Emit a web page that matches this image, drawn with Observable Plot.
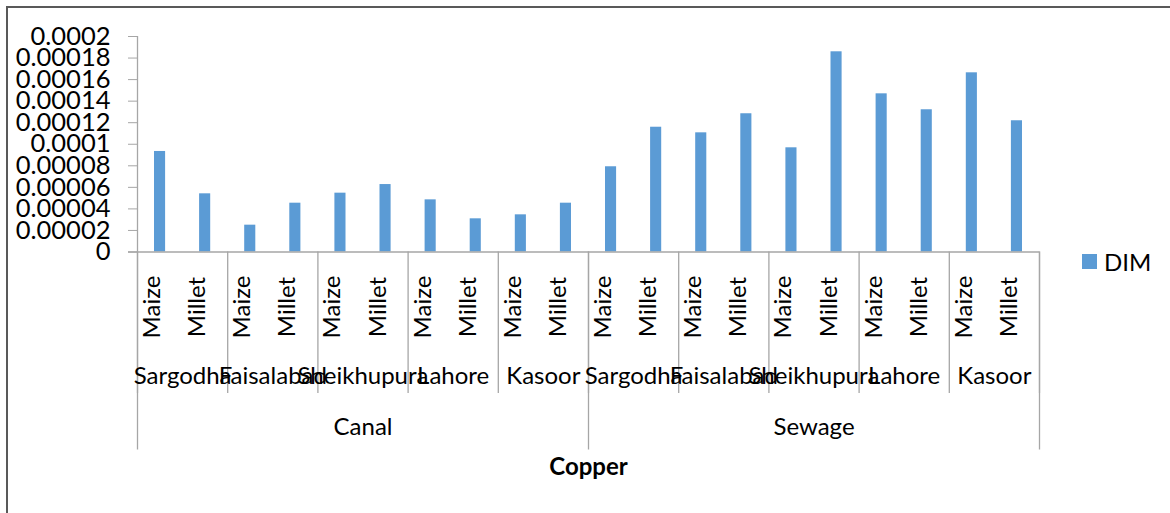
<!DOCTYPE html>
<html><head><meta charset="utf-8">
<script src="https://cdn.jsdelivr.net/npm/d3@7"></script>
<script src="https://cdn.jsdelivr.net/npm/@observablehq/plot@0.6"></script>
<style>
html,body{margin:0;padding:0;background:#fff;}
#wrap{position:relative;width:1170px;height:513px;overflow:hidden;font-family:Lato,sans-serif;}
#frame{position:absolute;left:6px;top:6px;width:1200px;height:600px;border-top:2px solid #595959;border-left:2px solid #595959;box-sizing:border-box;}
#chart{position:absolute;left:0;top:0;}
#legend{position:absolute;left:1082px;top:245px;}
#legend svg{margin-right:7px !important;}
</style></head><body>
<div id="wrap"><div id="frame"></div><div id="chart"></div><div id="legend"></div></div>
<script>
// ---- data ----
const sources = ["Canal", "Sewage"];
const cities = ["Sargodha", "Faisalabad", "Sheikhupura", "Lahore", "Kasoor"];
const crops = ["Maize", "Millet"];
// DIM values, in order city x crop
const canalDIM  = [0.0000933, 0.0000540, 0.0000249, 0.0000453, 0.0000546, 0.0000626, 0.0000484, 0.0000308, 0.0000345, 0.0000453];
const sewageDIM = [0.0000791, 0.0001158, 0.0001106, 0.0001283, 0.0000967, 0.0001858, 0.0001468, 0.0001320, 0.0001663, 0.0001218];
const yTicks = [0, 0.00002, 0.00004, 0.00006, 0.00008, 0.0001, 0.00012, 0.00014, 0.00016, 0.00018, 0.0002];
const yTickLabels = ["0", "0.00002", "0.00004", "0.00006", "0.00008", "0.0001", "0.00012", "0.00014", "0.00016", "0.00018", "0.0002"];
const seriesName = "DIM";
const xTitle = "Copper";

// ---- table ----
const seriesBySource = {Canal: canalDIM, Sewage: sewageDIM};
const rows = [];
sources.forEach(s => {
  cities.forEach((c, ci) => {
    crops.forEach((k, ki) => {
      rows.push({source: s, city: c, crop: k, i: rows.length, value: seriesBySource[s][ci * crops.length + ki]});
    });
  });
});
const cityGroups = d3.groups(rows, d => d.source + "|" + d.city).map(([key, g]) => ({
  city: g[0].city, start: d3.min(g, d => d.i), end: d3.max(g, d => d.i) + 1
}));
const sourceGroups = d3.groups(rows, d => d.source).map(([s, g]) => ({
  source: s, start: d3.min(g, d => d.i), end: d3.max(g, d => d.i) + 1
}));
const cityBounds = Array.from(new Set(cityGroups.flatMap(g => [g.start, g.end])));
const sourceBounds = Array.from(new Set(sourceGroups.flatMap(g => [g.start, g.end])));

const gray = "#a6a6a6";
const blue = "#5B9BD5";
const fs = 24;
const tickFs = 25.5;

const chart = Plot.plot({
  width: 1170,
  height: 513,
  marginLeft: 137,
  marginRight: 131,
  marginTop: 36,
  marginBottom: 261.5,
  style: {fontFamily: "Lato, sans-serif", fontSize: fs + "px", color: "#000", background: "transparent", overflow: "visible"},
  x: {type: "linear", domain: [0, rows.length], axis: null},
  y: {domain: [0, 0.0002], axis: null},
  marks: [
    Plot.rectY(rows, {x1: "i", x2: d => d.i + 1, y: "value", fill: blue, insetLeft: 17, insetRight: 17}),
    Plot.axisY({ticks: yTicks, tickFormat: d => yTickLabels[yTicks.indexOf(d)], tickSize: 9, tickPadding: 18, stroke: gray, strokeOpacity: 1, fill: "#000", fontSize: tickFs, label: null}),
    Plot.ruleX([0], {stroke: gray, strokeWidth: 1.3}),
    Plot.ruleY([0], {stroke: gray, strokeWidth: 1.3, insetLeft: -9}),
    Plot.ruleX(cityBounds, {x: d => d, stroke: gray, strokeWidth: 1.3, insetTop: 215.5, insetBottom: -141.5}),
    Plot.ruleX(sourceBounds, {x: d => d, stroke: gray, strokeWidth: 1.3, insetTop: 215.5, insetBottom: -198}),
    Plot.text(rows, {x: d => d.i + 0.5, text: "crop", rotate: -90, frameAnchor: "bottom", dy: 55, fontSize: fs, fill: "#000"}),
    Plot.text(cityGroups, {x: d => (d.start + d.end) / 2, text: "city", frameAnchor: "bottom", dy: 132, fontSize: fs, fill: "#000"}),
    Plot.text(sourceGroups, {x: d => (d.start + d.end) / 2, text: "source", frameAnchor: "bottom", dy: 183, fontSize: fs, fill: "#000"}),
    Plot.text([xTitle], {x: rows.length / 2, text: d => d, frameAnchor: "bottom", dy: 222.5, fontSize: fs, fontWeight: "bold", fill: "#000"})
  ]
});
document.getElementById("chart").appendChild(chart);

const legend = Plot.legend({
  color: {type: "ordinal", domain: [seriesName], range: [blue]},
  legend: "swatches",
  swatchSize: 15,
  style: {fontFamily: "Lato, sans-serif", fontSize: fs + "px", color: "#000"}
});
document.getElementById("legend").appendChild(legend);
</script>
</body></html>
